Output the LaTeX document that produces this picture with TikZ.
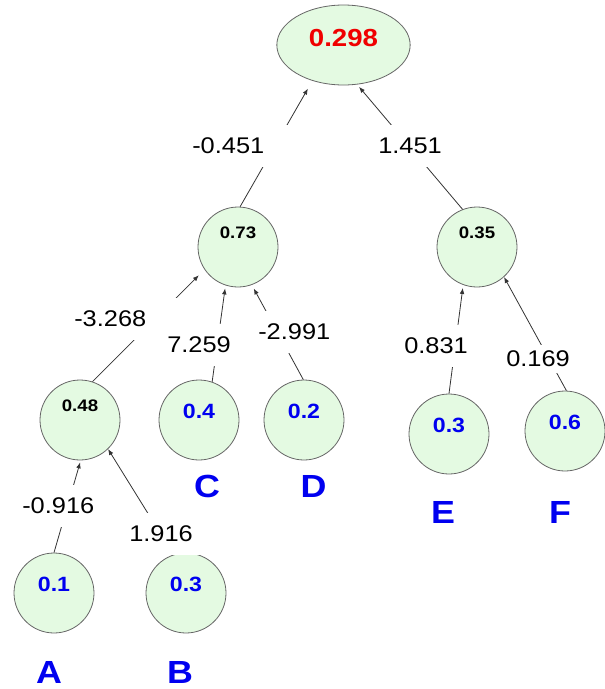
\documentclass[tikz,border=0pt]{standalone}
\usepackage{fontspec}
\setmainfont{Liberation Sans}[FakeStretch=1.12]
\usetikzlibrary{positioning}
\usetikzlibrary{arrows.meta}
\usetikzlibrary{shapes.geometric}
\definecolor{cellgreen}{RGB}{228,250,226}
\definecolor{valblue}{RGB}{0,0,240}
\definecolor{outred}{RGB}{240,0,0}
\tikzset{
    Cell/.style={circle,draw=black!60,fill=cellgreen,line width=0.6pt,minimum size=60pt,inner sep=0pt},
    InVal/.style={Cell,text=valblue,font=\fontsize{15.5}{16}\selectfont\bfseries,text depth=13pt},
    HidVal/.style={Cell,font=\fontsize{12.5}{13}\selectfont\bfseries,text depth=21pt},
    OutVal/.style={ellipse,draw=black!60,fill=cellgreen,line width=0.6pt,minimum width=100pt,minimum height=60pt,inner sep=0pt,text=outred,font=\fontsize{18.5}{19}\selectfont\bfseries,text depth=11.25pt},
    Weight/.style={fill=white,inner xsep=0pt,inner ysep=0pt,minimum height=31.5pt,text width=81pt,align=left,font=\fontsize{17}{18}\selectfont,anchor=west},
    Wire/.style={draw=black!80,line width=0.6pt,-{Latex[length=4.5pt,width=3.5pt]}},
    Letter/.style={text=valblue,font=\fontsize{24}{26}\selectfont\bfseries,inner sep=0pt}
}
\begin{document}
\begin{tikzpicture}[x=0.75pt,y=-0.75pt]
    \useasboundingbox (0,0) rectangle (605,689);

    % output and hidden layer
    \node[OutVal] (nOut) at (343.5,45) {0.298};
    \node[HidVal] (n073) at (238,247) {0.73};
    \node[HidVal] (n035) at (477,247) {0.35};
    \node[HidVal] (n048) at (80,420) {0.48};

    % inputs
    \node[InVal] (nC) at (199,420) {0.4};
    \node[InVal] (nD) at (304,420) {0.2};
    \node[InVal] (nA) at (54,593) {0.1};
    \node[InVal] (nB) at (186,593) {0.3};
    \node[InVal] (nE) at (449,434) {0.3};
    \node[InVal] (nF) at (565,431) {0.6};

    \node[Letter] (lA) at (49,672.5) {A};
    \node[Letter] (lB) at (180,672.5) {B};
    \node[Letter] (lC) at (207,486) {C};
    \node[Letter] (lD) at (313.5,486) {D};
    \node[Letter] (lE) at (443,512) {E};
    \node[Letter] (lF) at (560,512) {F};

    % weighted connections
    \draw[Wire,shorten >=6.75pt] (n073.87) -- (nOut.229);
    \draw[Wire,shorten >=2.25pt] (n035.111) -- (nOut.289);
    \draw[Wire,shorten >=6pt] (n048.72) -- (n073.214);
    \draw[Wire,shorten >=2.25pt] (nC.71) -- (n073.252);
    \draw[Wire,shorten >=3pt] (nD.91) -- (n073.290);
    \draw[Wire,shorten >=1.5pt] (nA.90) -- (n048.271);
    \draw[Wire] (nB.108) -- (n048.314);
    \draw[Wire,shorten >=2.25pt] (nE.90) -- (n035.250);
    \draw[Wire] (nF.88) -- (n035.312);

    % weights
    \node[Weight] (w1) at (192,145.5) {-0.451};
    \node[Weight] (w2) at (378,145.5) {1.451};
    \node[Weight] (w3) at (74,318.5) {-3.268};
    \node[Weight] (w4) at (167,345) {7.259};
    \node[Weight] (w5) at (258,331.5) {-2.991};
    \node[Weight] (w6) at (22,505.5) {-0.916};
    \node[Weight] (w7) at (129,533.5) {1.916};
    \node[Weight] (w8) at (404,345.5) {0.831};
    \node[Weight,minimum height=21pt] (w9) at (506,358.5) {0.169};
\end{tikzpicture}
\end{document}
